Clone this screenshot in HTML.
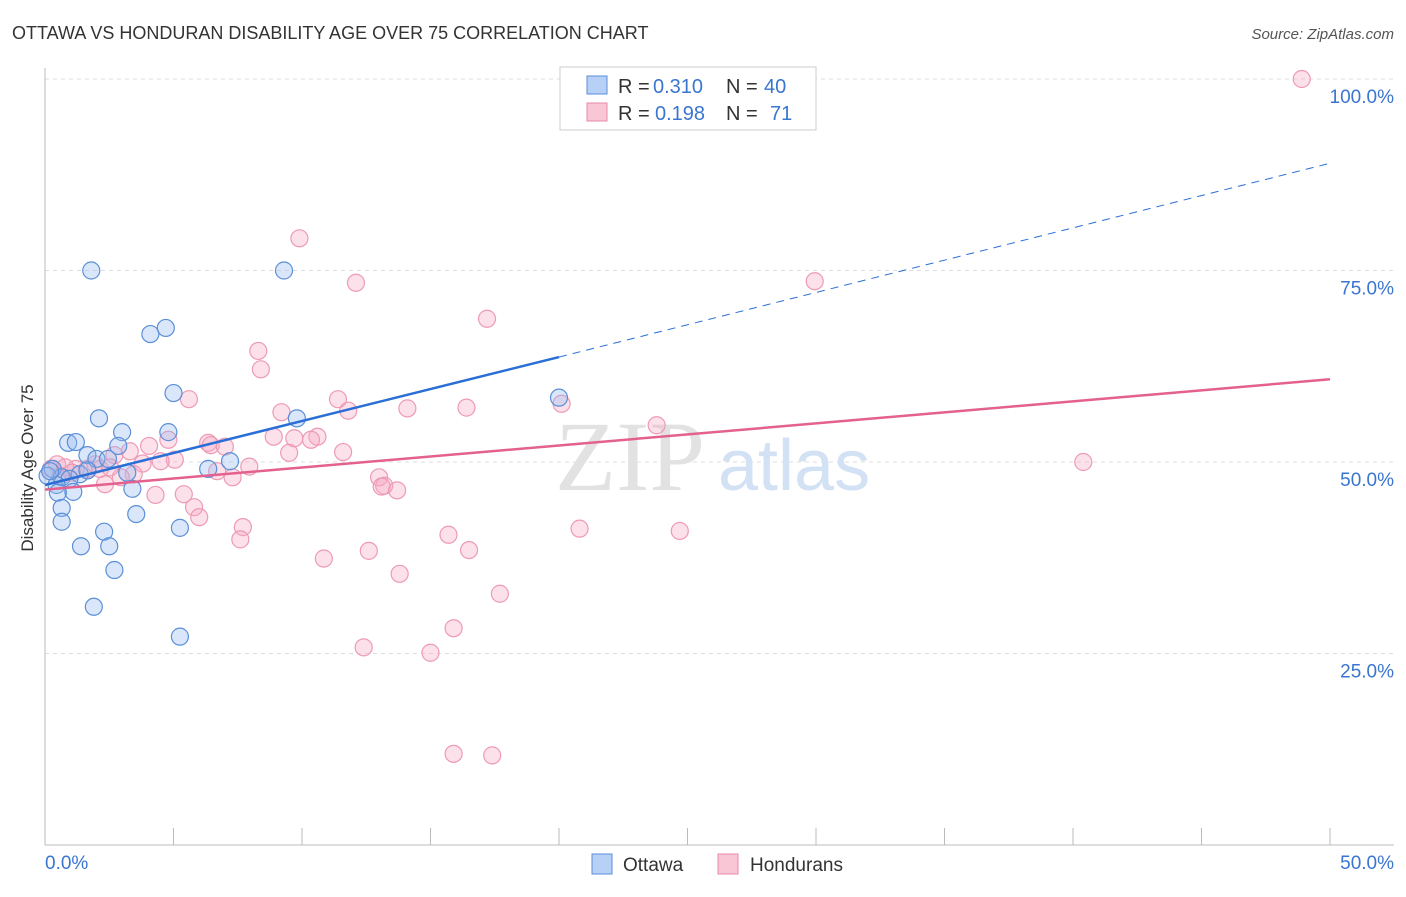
<!DOCTYPE html>
<html><head><meta charset="utf-8"><style>
body{margin:0;background:#fff;font-family:"Liberation Sans",sans-serif}
</style></head><body>
<svg width="1406" height="892" xmlns="http://www.w3.org/2000/svg">
<text x="12" y="39" font-size="18" fill="#333">OTTAWA VS HONDURAN DISABILITY AGE OVER 75 CORRELATION CHART</text>
<text x="1394" y="39" font-size="15" fill="#555" font-style="italic" text-anchor="end">Source: ZipAtlas.com</text>
<g id="grid"></g>
<text x="555" y="490" font-size="100" fill="#e2e2e2" font-family="Liberation Serif">ZIP</text>
<text x="718" y="490" font-size="72" fill="#d3e1f5">atlas</text>
<line x1="45" y1="68" x2="45" y2="845" stroke="#bbb"/>
<line x1="45" y1="845" x2="1394" y2="845" stroke="#bbb"/>
<text x="20" y="455" font-size="17" fill="#333" transform="rotate(-90 33 455)" text-anchor="middle">Disability Age Over 75</text>
<text x="45" y="869" font-size="19" fill="#3a75d0">0.0%</text>
<text x="1394" y="869" font-size="19" fill="#3a75d0" text-anchor="end">50.0%</text>
<g id="pts"></g>
<g id="lines"></g>
<g>
<rect x="560" y="67" width="256" height="63" fill="#fff" stroke="#ccc"/>
<rect x="587" y="76" width="20" height="18" fill="#b7d0f5" stroke="#5b8fd8"/>
<rect x="587" y="103" width="20" height="18" fill="#f9c6d5" stroke="#e88aa8"/>
<text y="93" font-size="20" fill="#333"><tspan x="618">R =</tspan><tspan x="653" fill="#3a75d0">0.310</tspan><tspan x="726">N =</tspan><tspan x="764" fill="#3a75d0">40</tspan></text>
<text y="120" font-size="20" fill="#333"><tspan x="618">R =</tspan><tspan x="655" fill="#3a75d0">0.198</tspan><tspan x="726">N =</tspan><tspan x="770" fill="#3a75d0">71</tspan></text>
</g>
<g>
<rect x="592" y="854" width="20" height="20" fill="#b7d0f5" stroke="#5b8fd8"/>
<text x="623" y="871" font-size="19" fill="#333">Ottawa</text>
<rect x="718" y="854" width="20" height="20" fill="#f9c6d5" stroke="#e88aa8"/>
<text x="750" y="871" font-size="19" fill="#333">Hondurans</text>
</g>
</svg>
<script>
const yTicks=[25,50,75,100];
const yTickLabels=["25.0%","50.0%","75.0%","100.0%"];
const xTicks=[0,5,10,15,20,25,30,35,40,45,50];
const ottawaX=[1.8,9.3,4.7,4.1,5.0,20.0,2.1,9.8,3.0,4.8,0.9,1.2,2.85,1.65,2.0,7.2,6.35,3.2,0.3,0.1,0.65,1.35,0.95,0.45,1.1,3.4,0.5,0.65,3.55,0.65,5.25,2.3,1.4,2.5,2.7,1.9,5.25,1.65,0.2,2.45];
const ottawaY=[75,75,67.5,66.7,59,58.4,55.7,55.7,53.9,53.9,52.5,52.6,52.1,50.9,50.4,50.1,49.1,48.6,49.1,48.2,48.0,48.4,47.8,47.0,46.1,46.5,46.0,44.0,43.2,42.2,41.4,40.9,39.0,39.0,35.9,31.1,27.2,48.9,48.8,50.4];
const honX=[48.9,9.9,12.1,29.95,17.2,8.3,8.4,5.6,11.4,9.2,11.8,14.1,16.4,20.1,23.8,4.8,6.35,6.45,7.0,8.9,9.7,10.6,10.35,4.05,3.3,11.6,9.5,2.7,5.05,3.8,4.5,7.95,6.7,7.3,13.0,3.45,2.95,2.335,13.2,13.1,13.7,4.3,5.4,5.8,6.0,7.7,7.6,10.85,12.6,15.7,16.5,20.8,24.7,13.8,17.7,15.9,12.4,15.0,15.9,17.4,40.4,1.65,1.95,1.2,0.47,0.23,0.78,1.05,2.14,2.53,0.6];
const honY=[100,79.2,73.4,73.6,68.7,64.5,62.1,58.2,58.2,56.5,56.7,57.0,57.1,57.6,54.8,52.9,52.5,52.2,52.0,53.3,53.1,53.3,52.9,52.1,51.4,51.3,51.2,50.9,50.3,49.8,50.1,49.4,48.8,48.0,48.0,48.4,48.0,47.1,46.9,46.8,46.3,45.7,45.8,44.1,42.8,41.5,39.9,37.4,38.4,40.5,38.5,41.3,41.0,35.4,32.8,28.3,25.8,25.1,11.9,11.7,50.0,49.1,49.7,49.1,49.7,49.1,49.3,48.6,49.1,49.3,48.2];
const blueTrend=[[0,47.0],[20,63.7],[50,89.0]];
const pinkTrend=[[0,46.4],[50,60.8]];
const X0=45,X1=1330,Y0=845,Y1=79;
const sx=v=>X0+(X1-X0)*v/50, sy=v=>Y0-(Y0-Y1)*v/100;
const NS="http://www.w3.org/2000/svg";
function mk(t,a,p){const e=document.createElementNS(NS,t);for(const k in a)e.setAttribute(k,a[k]);p.appendChild(e);return e;}
const grid=document.getElementById('grid');
yTicks.forEach((v,i)=>{
 const l=mk('line',{x1:45,x2:1394,y1:sy(v),y2:sy(v),stroke:'#ddd','stroke-dasharray':'4 4'},grid);
 
 
 const t=mk('text',{x:1394,y:sy(v)+24,'font-size':19,fill:'#3a75d0','text-anchor':'end'},grid);
 t.textContent=yTickLabels[i];
 
 
});
xTicks.forEach(v=>{
 if(v===0)return;
 const l=mk('line',{x1:sx(v),x2:sx(v),y1:828,y2:845,stroke:'#bbb'},grid);
 
 
});
const pts=document.getElementById('pts');
honX.forEach((x,i)=>{
 const c=mk('circle',{cx:sx(x),cy:sy(honY[i]),r:8.5,fill:'rgba(246,170,195,0.35)',stroke:'#ee9ab5','stroke-width':1.2},pts);
 
 
});
ottawaX.forEach((x,i)=>{
 const c=mk('circle',{cx:sx(x),cy:sy(ottawaY[i]),r:8.5,fill:'rgba(150,185,240,0.35)',stroke:'#5b8fd8','stroke-width':1.2},pts);
 
 
});
const lines=document.getElementById('lines');
let b=mk('line',{x1:sx(blueTrend[0][0]),y1:sy(blueTrend[0][1]),x2:sx(blueTrend[1][0]),y2:sy(blueTrend[1][1]),stroke:'#2a6fd6','stroke-width':2.5},lines);


b=mk('line',{x1:sx(blueTrend[1][0]),y1:sy(blueTrend[1][1]),x2:sx(blueTrend[2][0]),y2:sy(blueTrend[2][1]),stroke:'#2a6fd6','stroke-width':1,'stroke-dasharray':'8 6'},lines);


b=mk('line',{x1:sx(pinkTrend[0][0]),y1:sy(pinkTrend[0][1]),x2:sx(pinkTrend[1][0]),y2:sy(pinkTrend[1][1]),stroke:'#e4608e','stroke-width':2.5},lines);


</script>
</body></html>
